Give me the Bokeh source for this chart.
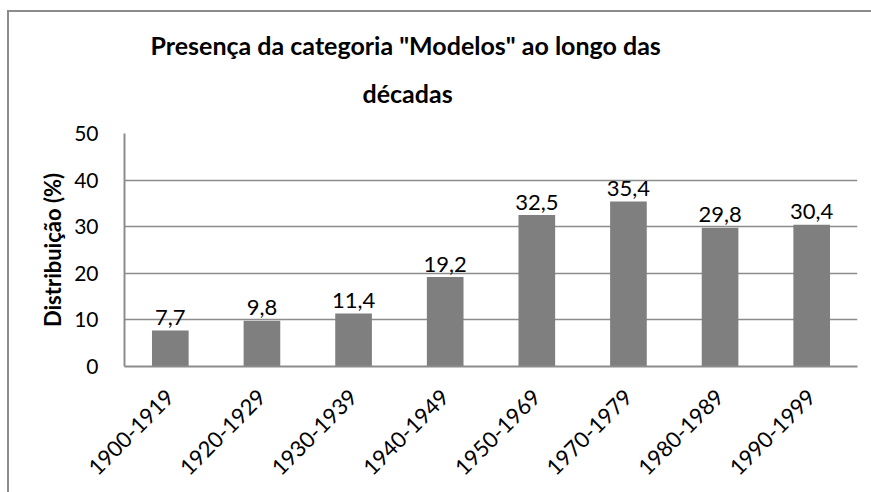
import math

from bokeh.core.properties import value
from bokeh.embed import file_html
from bokeh.models import ColumnDataSource, FactorRange, Range1d, SingleIntervalTicker, Title
from bokeh.plotting import figure
from bokeh.resources import INLINE

# Share of the "Modelos" category per period (%)
periods = ["1900-1919", "1920-1929", "1930-1939", "1940-1949",
           "1950-1969", "1970-1979", "1980-1989", "1990-1999"]
shares = [7.7, 9.8, 11.4, 19.2, 32.5, 35.4, 29.8, 30.4]

FONT = "Lato"
GREY_LINE = "#8c8c8c"
BAR = "#7f7f7f"

labels = [f"{v:.1f}".replace(".", ",") for v in shares]
source = ColumnDataSource(data=dict(period=periods, share=shares, label=labels))

p = figure(
    width=862, height=480,
    x_range=FactorRange(*periods, range_padding=0),
    y_range=Range1d(0, 50),
    output_backend="svg", toolbar_location=None,
    min_border_left=115, min_border_right=16,
    min_border_top=121, min_border_bottom=128,
)
p.styles = {
    "margin-left": "7px", "margin-top": "10px",
    "border-left": f"2px solid {GREY_LINE}", "border-top": f"2px solid {GREY_LINE}",
    "box-sizing": "content-box",
}
p.outline_line_color = None
p.background_fill_color = "white"
p.border_fill_color = "white"

p.vbar(x="period", top="share", width=0.4, source=source,
       fill_color=BAR, line_color=None)

p.text(x="period", y="share", text="label", source=source,
       text_align="center", text_baseline="alphabetic", y_offset=-13,
       text_font=value(FONT), text_font_size="22px", text_color="black")

# axes
p.yaxis.ticker = SingleIntervalTicker(interval=10)
p.yaxis.axis_label = "Distribuição (%)"
p.yaxis.axis_label_text_font = FONT
p.yaxis.axis_label_text_font_style = "bold"
p.yaxis.axis_label_text_font_size = "22px"
p.yaxis.axis_label_text_color = "black"
p.yaxis.axis_label_standoff = 5
p.yaxis.major_label_standoff = 20

for ax in (p.xaxis, p.yaxis):
    ax.axis_line_color = GREY_LINE
    ax.axis_line_width = 2
    ax.major_tick_line_color = None
    ax.minor_tick_line_color = None
    ax.major_label_text_font = FONT
    ax.major_label_text_color = "black"

p.yaxis.major_label_text_font_size = "21px"
p.xaxis.major_label_text_font_size = "22px"
p.xaxis.major_label_orientation = math.pi / 4
p.xaxis.major_label_standoff = 21

p.xgrid.grid_line_color = None
p.ygrid.grid_line_color = GREY_LINE
p.ygrid.grid_line_width = 1.5

# two-line title, left-aligned with per-line offsets from the frame's left edge
title_lines = ['Presença da categoria "Modelos" ao longo das', "décadas"]
for text, offset, standoff in ((title_lines[1], 238, 52), (title_lines[0], 26, -21)):
    p.add_layout(Title(text=text, align="left", offset=offset, standoff=standoff,
                       text_font=FONT, text_font_style="bold",
                       text_font_size="25px", text_color="black"), "above")

open("out.html", "w").write(file_html(p, INLINE))
